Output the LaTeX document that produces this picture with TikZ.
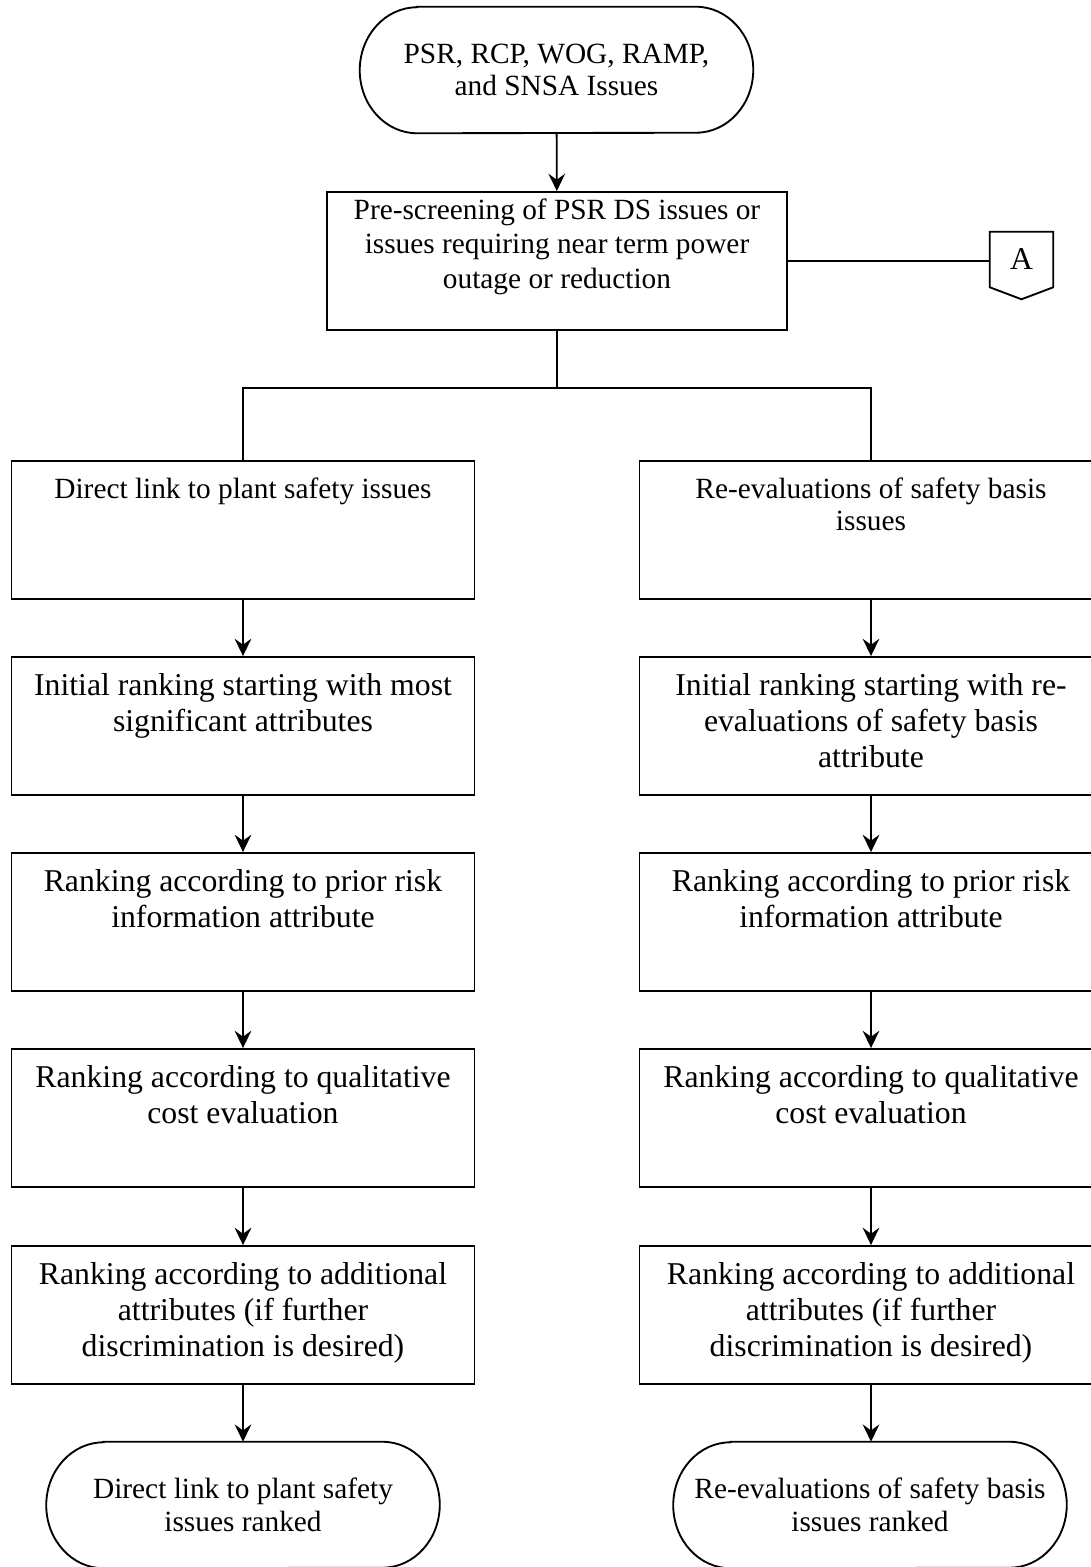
\documentclass[tikz,border=0pt]{standalone}
\usepackage{fontspec}
\setmainfont{Liberation Serif}
\usetikzlibrary{arrows.meta}
\newcommand{\fbig}{\fontsize{23.8pt}{27pt}\selectfont}
\newcommand{\fsmall}{\fontsize{22pt}{24.5pt}\selectfont}
\newcommand{\fpre}{\fontsize{22pt}{26pt}\selectfont}
\newcommand{\topbox}[3]{\parbox[c][103.5pt][t]{340pt}{\centering#1\rule{0pt}{#2}#3\par}}
\newcommand{\termpath}[1]{%
  \draw[line width=1.4pt] ([xshift=43pt]#1.north west) -- ([xshift=-43pt]#1.north east)
    arc[start angle=90, end angle=-90, x radius=43pt, y radius=47.25pt]
    -- ([xshift=43pt]#1.south west)
    arc[start angle=270, end angle=90, x radius=43pt, y radius=47.25pt] -- cycle;}
\begin{document}
\begin{tikzpicture}[x=0.75pt,y=-0.75pt,
  boxnode/.style={draw, line width=1.4pt, inner sep=0pt, minimum height=103.5pt},
  colbox/.style={boxnode, minimum width=347.25pt},
  termnode/.style={inner sep=0pt, minimum width=294.75pt, minimum height=94.5pt, align=center, font=\fsmall},
  line/.style={line width=1.4pt},
  arr/.style={line width=1.4pt, -{Stealth[length=13pt,width=12.5pt,inset=4.5pt]}}]
\useasboundingbox[fill=white] (0,0) rectangle (1091,1567);

% top terminator
\node[termnode] (top) at (556.5,70) {PSR, RCP, WOG, RAMP,\\and SNSA Issues};
\termpath{top}

% pre-screening
\node[boxnode, minimum width=345pt] (pre) at (557,261)
  {\topbox{\fpre}{20.25pt}{Pre-screening of PSR DS issues or\\issues requiring near term power\\outage or reduction}};

% off-page connector A
\node[inner sep=0pt, minimum width=47.25pt, minimum height=41.25pt, font=\fbig] (A) at (1021.5,259.5) {A};
\draw[line width=1.4pt] (A.south west) -- (A.north west) -- (A.north east) -- (A.south east)
  -- ([yshift=-9pt]A.south) -- cycle;

% row 1
\node[colbox] (L1) at (243,530) {\topbox{\fsmall}{27.75pt}{Direct link to plant safety issues}};
\node[colbox] (R1) at (871,530) {\topbox{\fsmall}{27.75pt}{Re-evaluations of safety basis\\issues}};
% row 2
\node[colbox] (L2) at (243,726) {\topbox{\fbig}{28.9pt}{Initial ranking starting with most\\significant attributes}};
\node[colbox] (R2) at (871,726) {\topbox{\fbig}{28.9pt}{Initial ranking starting with re-\\evaluations of safety basis\\attribute}};
% row 3
\node[colbox] (L3) at (243,922) {\topbox{\fbig}{28.9pt}{Ranking according to prior risk\\information attribute}};
\node[colbox] (R3) at (871,922) {\topbox{\fbig}{28.9pt}{Ranking according to prior risk\\information attribute}};
% row 4
\node[colbox] (L4) at (243,1118) {\topbox{\fbig}{28.9pt}{Ranking according to qualitative\\cost evaluation}};
\node[colbox] (R4) at (871,1118) {\topbox{\fbig}{28.9pt}{Ranking according to qualitative\\cost evaluation}};
% row 5
\node[colbox] (L5) at (243,1315) {\topbox{\fbig}{28.9pt}{Ranking according to additional\\attributes (if further\\discrimination is desired)}};
\node[colbox] (R5) at (871,1315) {\topbox{\fbig}{28.9pt}{Ranking according to additional\\attributes (if further\\discrimination is desired)}};

% bottom terminators
\node[termnode] (LE) at (243,1505) {Direct link to plant safety\\issues ranked};
\termpath{LE}
\node[termnode] (RE) at (870,1505) {Re-evaluations of safety basis\\issues ranked};
\termpath{RE}

% connectors
\draw[arr] (top) -- (pre);
\draw[line] (pre.east) -- (pre.east -| A.west);
\coordinate (br) at (557,388);
\draw[line] (pre.south) -- (br);
\draw[line] (L1.north) |- (br) -| (R1.north);
\draw[arr] (L1) -- (L2);
\draw[arr] (L2) -- (L3);
\draw[arr] (L3) -- (L4);
\draw[arr] (L4) -- (L5);
\draw[arr] (L5.south) -- (L5.south |- LE.north);
\draw[arr] (R1) -- (R2);
\draw[arr] (R2) -- (R3);
\draw[arr] (R3) -- (R4);
\draw[arr] (R4) -- (R5);
\draw[arr] (R5.south) -- (R5.south |- RE.north);
\end{tikzpicture}
\end{document}
